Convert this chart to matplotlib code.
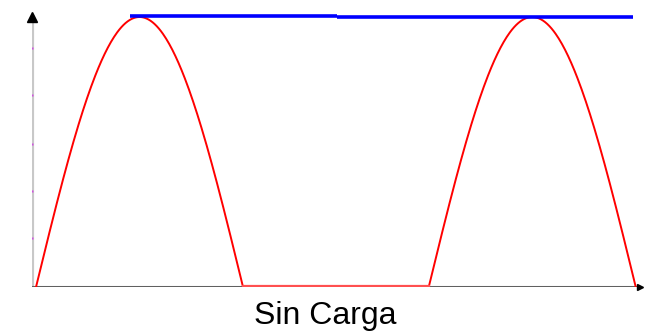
import numpy as np
import matplotlib.pyplot as plt

# half-wave rectified sine, angles in degrees
lobe_starts = [3.5, 345.0]
lobe_ends = [183.5, 525.0]
peak = 1.0
# blue line: capacitor voltage with no load
blue_x = [[85.0, 265.0], [265.0, 523.0]]
blue_y = [[1.005, 1.005], [1.0, 1.0]]
tick_vals = [0.18, 0.355, 0.53, 0.71, 0.885]
label = "Sin Carga"

fig = plt.figure(figsize=(6.46, 3.34), dpi=100)
ax = fig.add_axes([32 / 646, 47 / 334, 608 / 646, 280 / 334])
ax.set_xlim(0, 528.7)
ax.set_ylim(0, 280 / 270)
ax.axis('off')

# axes
ax.plot([0, 0], [0, 1.0], color='#c8c8c8', lw=3, zorder=1)
ax.plot([0, 528.7], [0, 0], color='#606060', lw=2.2, zorder=1)
ax.plot([0], [1.0], marker='^', color='black', ms=7, clip_on=False, zorder=3)
ax.plot([528.7], [0], marker='>', color='black', ms=5, clip_on=False, zorder=3)
ax.plot([0] * len(tick_vals), tick_vals, ls='none', marker='s', ms=2,
        color='#d050e0', mec='none', zorder=2)

# red waveform
for s, e in zip(lobe_starts, lobe_ends):
    xs = np.linspace(s, e, 200)
    ax.plot(xs, peak * np.sin(np.radians(xs - s)), color='red', lw=1.4, zorder=2)
for e, s in zip(lobe_ends[:-1], lobe_starts[1:]):
    ax.plot([e, s], [0.005, 0.005], color='#ff5050', lw=1.6, zorder=2)

for bx, by in zip(blue_x, blue_y):
    ax.plot(bx, by, color='#0000ff', lw=2.6, solid_capstyle='butt', zorder=3)

fig.text(325 / 646, 1 - 316 / 334, label, ha='center', va='center',
         fontsize=23, family='Liberation Sans', color='black')

fig.savefig('out.png', dpi=100)
